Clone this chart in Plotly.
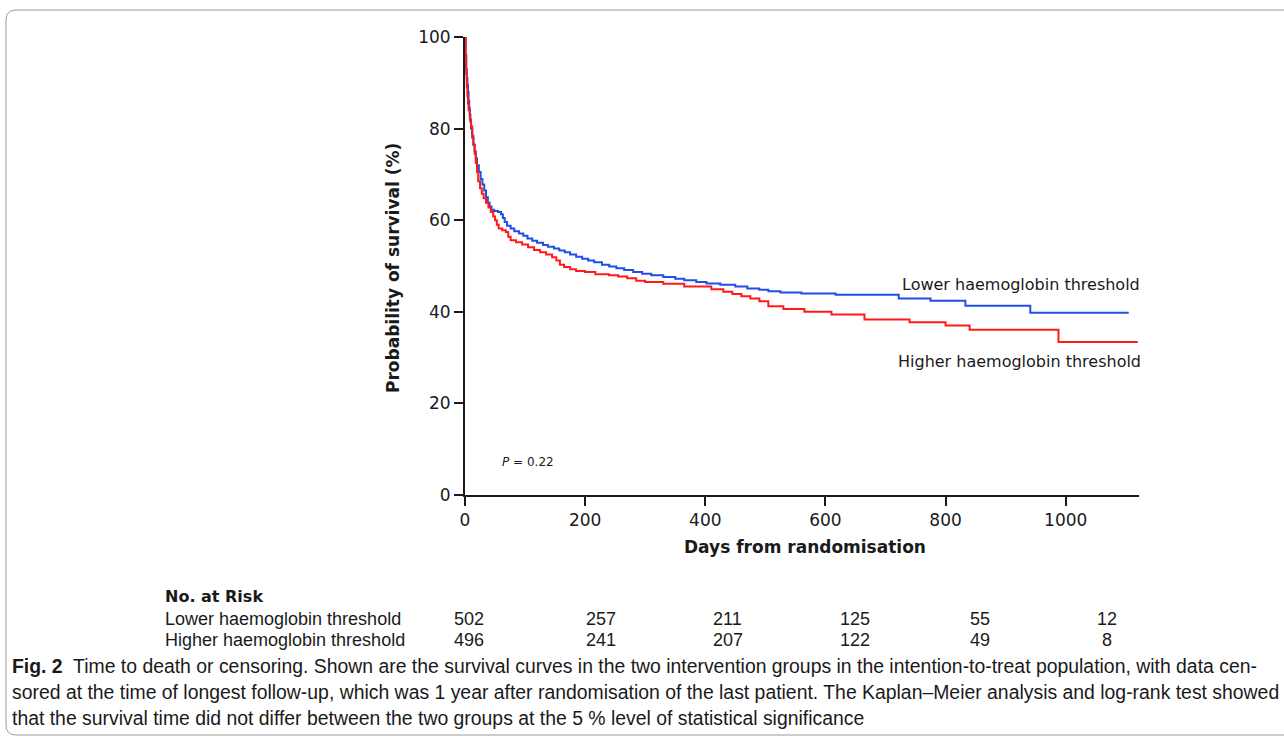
import plotly.graph_objects as go

# ---------------- data ----------------
lower_days = [0, 1, 2, 3, 4, 5, 6, 7, 8, 9, 10, 12, 14, 16, 18, 20, 23, 26, 29, 32, 35, 38, 41, 44, 48,
              55, 60, 63, 66, 70, 76, 82, 90, 97, 104, 112, 120, 130, 138, 148, 157, 166, 175, 185,
              195, 205, 215, 228, 240, 252, 265, 280, 295, 310, 330, 350, 365, 385, 402, 425, 450,
              470, 490, 505, 525, 560, 617, 722, 775, 833, 941, 1105]
lower_surv = [100, 96, 93, 91, 89.5, 88, 86, 84.5, 83, 81.5, 80, 78, 76.5, 75, 73.5, 72, 70.5, 69, 67.8,
              66.5, 65, 63.8, 63, 62.3, 62.0, 61.8, 61.3, 60.5, 59.6, 58.8, 58.2, 57.6, 57.1, 56.6,
              56.0, 55.5, 55.1, 54.6, 54.2, 53.8, 53.4, 53.0, 52.5, 52.0, 51.6, 51.2, 50.8, 50.3, 49.9,
              49.5, 49.1, 48.7, 48.3, 48.0, 47.6, 47.2, 46.9, 46.5, 46.2, 45.9, 45.5, 45.1, 44.8, 44.5,
              44.2, 44.0, 43.7, 42.9, 42.4, 41.3, 39.8, 39.8]

higher_days = [0, 1, 2, 3, 4, 5, 6, 8, 10, 12, 14, 16, 18, 20, 22, 25, 28, 31, 35, 39, 43, 47, 50, 53,
               56, 62, 68, 72, 76, 85, 95, 105, 115, 125, 135, 145, 152, 158, 165, 175, 185, 200, 217,
               240, 255, 270, 285, 300, 330, 365, 410, 430, 445, 460, 475, 490, 505, 530, 565, 610,
               665, 740, 800, 840, 988, 1120]
higher_surv = [100, 96, 92, 89, 87, 85.5, 84, 82, 80.5, 78.5, 76.5, 74.5, 72.5, 70.5, 68.5, 67, 65.8,
               64.8, 63.8, 62.8, 61.8, 60.8, 60, 59, 58.2, 57.8, 57.4, 56.4, 55.6, 55.2, 54.7, 54.1,
               53.5, 53.0, 52.5, 51.9, 51.2, 50.3, 49.8, 49.3, 48.9, 48.7, 48.2, 48.0, 47.7, 47.3,
               46.8, 46.5, 46.1, 45.5, 44.9, 44.4, 43.9, 43.4, 42.9, 42.3, 41.2, 40.6, 40.0, 39.4,
               38.3, 37.7, 37.0, 36.1, 33.4, 33.4]

group_names = ["Lower haemoglobin threshold", "Higher haemoglobin threshold"]
risk_lower = [502, 257, 211, 125, 55, 12]
risk_higher = [496, 241, 207, 122, 49, 8]
x_ticks = [0, 200, 400, 600, 800, 1000]
y_ticks = [0, 20, 40, 60, 80, 100]
p_text = "<i>P</i> = 0.22"
caption_lines = [
    "<b>Fig. 2</b>  Time to death or censoring. Shown are the survival curves in the two intervention groups in the intention-to-treat population, with data cen-",
    "sored at the time of longest follow-up, which was 1 year after randomisation of the last patient. The Kaplan–Meier analysis and log-rank test showed",
    "that the survival time did not differ between the two groups at the 5 % level of statistical significance",
]

# ---------------- layout constants ----------------
W, H = 1284, 741
def px(x):
    return x / W
def py(y):
    return 1 - y / H

BLUE = "#1f4fe6"
RED = "#ff1a1a"
AX = "#1a1a1a"
FONT = "DejaVu Sans"
BODY = "Liberation Sans Narrow, Liberation Sans, sans-serif"

fig = go.Figure()
fig.add_trace(go.Scatter(x=lower_days, y=lower_surv, mode="lines", line=dict(color=BLUE, width=2, shape="hv"),
                         name=group_names[0], showlegend=False, hoverinfo="skip"))
fig.add_trace(go.Scatter(x=higher_days, y=higher_surv, mode="lines", line=dict(color=RED, width=2, shape="hv"),
                         name=group_names[1], showlegend=False, hoverinfo="skip"))

annotations = []
# curve labels
annotations.append(dict(x=px(1142), y=py(284), xref="paper", yref="paper", text=group_names[0],
                        showarrow=False, xanchor="right", yanchor="middle",
                        font=dict(family=FONT, size=16, color="#1a1a1a")))
annotations.append(dict(x=px(1143), y=py(361), xref="paper", yref="paper", text=group_names[1],
                        showarrow=False, xanchor="right", yanchor="middle",
                        font=dict(family=FONT, size=16, color="#1a1a1a")))
annotations.append(dict(x=px(500), y=py(462), xref="paper", yref="paper", text=p_text,
                        showarrow=False, xanchor="left", yanchor="middle",
                        font=dict(family=FONT, size=12, color="#1a1a1a")))
# axis titles
annotations.append(dict(x=px(805), y=py(547), xref="paper", yref="paper", text="<b>Days from randomisation</b>",
                        showarrow=False, xanchor="center", yanchor="middle",
                        font=dict(family=FONT, size=17, color="#1a1a1a")))
annotations.append(dict(x=px(393), y=py(268), xref="paper", yref="paper", text="<b>Probability of survival (%)</b>",
                        showarrow=False, xanchor="center", yanchor="middle", textangle=-90,
                        font=dict(family=FONT, size=17, color="#1a1a1a")))
# risk table
annotations.append(dict(x=px(163), y=py(596), xref="paper", yref="paper", text="<b>No. at Risk</b>",
                        showarrow=False, xanchor="left", yanchor="middle",
                        font=dict(family=FONT, size=16, color="#1a1a1a")))
risk_x = [469, 601, 728, 855, 980, 1107]
for row_y, name, vals in [(619, group_names[0], risk_lower), (640, group_names[1], risk_higher)]:
    annotations.append(dict(x=px(163), y=py(row_y), xref="paper", yref="paper", text=name,
                            showarrow=False, xanchor="left", yanchor="middle",
                            font=dict(family=BODY, size=18, color="#1a1a1a")))
    for xv, v in zip(risk_x, vals):
        annotations.append(dict(x=px(xv), y=py(row_y), xref="paper", yref="paper", text=str(v),
                                showarrow=False, xanchor="center", yanchor="middle",
                                font=dict(family=BODY, size=18, color="#1a1a1a")))
# caption
for i, line in enumerate(caption_lines):
    annotations.append(dict(x=px(10), y=py(666 + 26 * i), xref="paper", yref="paper", text=line,
                            showarrow=False, xanchor="left", yanchor="middle",
                            font=dict(family=BODY, size=19.4, color="#1a1a1a")))

# rounded border (open on the right: it runs off the page)
x0, x1 = 6, 1300
y0, y1 = 10, 735
r = 10
path = (f"M {px(x1)},{py(y0)} L {px(x0 + r)},{py(y0)} "
        f"Q {px(x0)},{py(y0)} {px(x0)},{py(y0 + r)} L {px(x0)},{py(y1 - r)} "
        f"Q {px(x0)},{py(y1)} {px(x0 + r)},{py(y1)} L {px(x1)},{py(y1)}")

fig.update_layout(
    template="none",
    autosize=False,
    width=W, height=H,
    margin=dict(l=0, r=0, t=0, b=0, pad=0),
    paper_bgcolor="white", plot_bgcolor="white",
    annotations=annotations,
    shapes=[dict(type="path", path=path, xref="paper", yref="paper",
                 line=dict(color="#9a9a9a", width=1), layer="below")],
    xaxis=dict(domain=[px(465), px(1139)], range=[0, 1122], tickvals=x_ticks, automargin=False,
               showline=True, linecolor=AX, linewidth=2, ticks="outside", ticklen=9, tickwidth=2,
               tickcolor=AX, showgrid=False, zeroline=False,
               tickfont=dict(family=FONT, size=17, color="#1a1a1a")),
    yaxis=dict(domain=[py(495), py(37)], range=[0, 100], tickvals=y_ticks, automargin=False,
               showline=True, linecolor=AX, linewidth=2, ticks="outside", ticklen=9, tickwidth=2,
               tickcolor=AX, showgrid=False, zeroline=False,
               tickfont=dict(family=FONT, size=17, color="#1a1a1a")),
)

fig.write_html("out.html",
               config={"responsive": False, "displayModeBar": False, "staticPlot": True},
               post_script="document.body.style.margin='0';document.body.style.overflow='hidden';")
